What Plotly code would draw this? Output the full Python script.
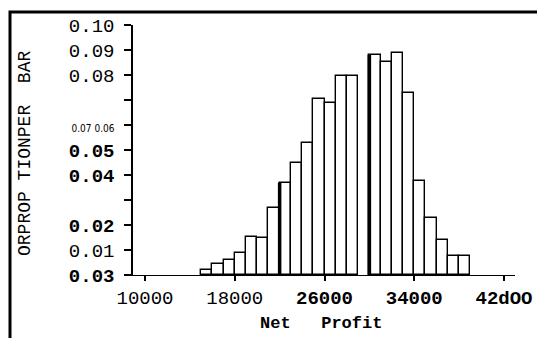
import plotly.graph_objects as go

# ---- data ----
bin_starts = [15000, 16000, 17000, 18000, 19000, 20000, 21000, 22000, 23000, 24000,
              25000, 26000, 27000, 28000, 29000, 30000, 31000, 32000, 33000, 34000,
              35000, 36000, 37000, 38000]
proportions = [0.0020, 0.0044, 0.0060, 0.0088, 0.0152, 0.0148, 0.0268, 0.0370, 0.0448, 0.0528,
               0.0704, 0.0690, 0.0796, 0.0796, None, 0.0880, 0.0852, 0.0888, 0.0728, 0.0376,
               0.0228, 0.0140, 0.0076, 0.0076]
bin_width = 1000
thick_edge_bins = [22000, 30000]

x_tickvals = [10000, 18000, 26000, 34000, 42000]
x_ticktext = ["10000", "18000", "<b>26000</b>", "<b>34000</b>", "<b>42dOO</b>"]

y_tickvals = [0.00, 0.01, 0.02, 0.03, 0.04, 0.05, 0.06, 0.07, 0.08, 0.09, 0.10]
y_ticktext = ["<b>0.03</b>", "0.01", "<b>0.02</b>", "", "<b>0.04</b>", "<b>0.05</b>",
              "<span style=\"font-family:Liberation Sans Narrow, DejaVu Sans Condensed, sans-serif;font-size:10px\">0.07 0.06</span>",
              "", "0.08", "0.09", "0.10"]

y_title = "ORPROP TIONPER\u00a0\u00a0BAR"
x_title = "<b>Net\u00a0\u00a0\u00a0Profit</b>"

# ---- figure ----
centers = [b + bin_width / 2 for b in bin_starts]

fig = go.Figure()
fig.add_trace(go.Bar(
    x=centers, y=proportions, width=[bin_width] * len(centers),
    marker=dict(color="white", line=dict(color="black", width=1.4)),
    showlegend=False, hoverinfo="skip",
))

# thicker left edges on two bars
ex, ey = [], []
for b in thick_edge_bins:
    h = proportions[bin_starts.index(b)]
    ex += [b, b, None]
    ey += [0, h, None]
fig.add_trace(go.Scatter(x=ex, y=ey, mode="lines",
                         line=dict(color="black", width=3.5),
                         showlegend=False, hoverinfo="skip"))

W, H = 537, 338
L, R, T, B = 133, 22, 25, 63
pw, ph = W - L - R, H - T - B


def px(x):
    return (x - L) / pw


def py(y):
    return (H - B - y) / ph


mono = "Liberation Mono, Courier New, monospace"

fig.update_layout(
    width=W, height=H,
    margin=dict(l=L, r=R, t=T, b=B, autoexpand=False),
    paper_bgcolor="white", plot_bgcolor="white",
    font=dict(family=mono, size=19, color="black"),
    bargap=0,
    xaxis=dict(range=[8930, 42980], showgrid=False, zeroline=False,
               showline=True, linecolor="black", linewidth=1.2,
               ticks="outside", ticklen=5, tickwidth=1.5, tickcolor="black",
               tickvals=x_tickvals, ticktext=x_ticktext,
               tickfont=dict(family=mono, size=19, color="black"),
               automargin=False),
    yaxis=dict(range=[0, 0.10], showgrid=False, zeroline=False,
               showline=True, linecolor="black", linewidth=1.5,
               ticks="outside", ticklen=7, tickwidth=1.5, tickcolor="black",
               tickvals=y_tickvals, ticktext=y_ticktext,
               tickfont=dict(family=mono, size=19, color="black"),
               ticklabelstandoff=6,
               automargin=False),
    shapes=[
        dict(type="path", xref="paper", yref="paper",
             path=f"M {px(10)} {py(338)} L {px(10)} {py(12)} L {px(537)} {py(12)}",
             line=dict(color="black", width=3)),
    ],
    annotations=[
        dict(text=y_title, xref="paper", yref="paper", x=px(25), y=py(153),
             xanchor="center", yanchor="middle", textangle=-90, showarrow=False,
             font=dict(family=mono, size=18, color="black")),
        dict(text=x_title, xref="paper", yref="paper", x=px(321), y=py(323),
             xanchor="center", yanchor="middle", showarrow=False,
             font=dict(family=mono, size=17, color="black")),
    ],
)

fig.write_html(
    "out.html",
    config={"displayModeBar": False},
    post_script=("document.body.style.margin='0';"
                 "document.body.style.overflow='hidden';"
                 "document.documentElement.style.overflow='hidden';"),
)
